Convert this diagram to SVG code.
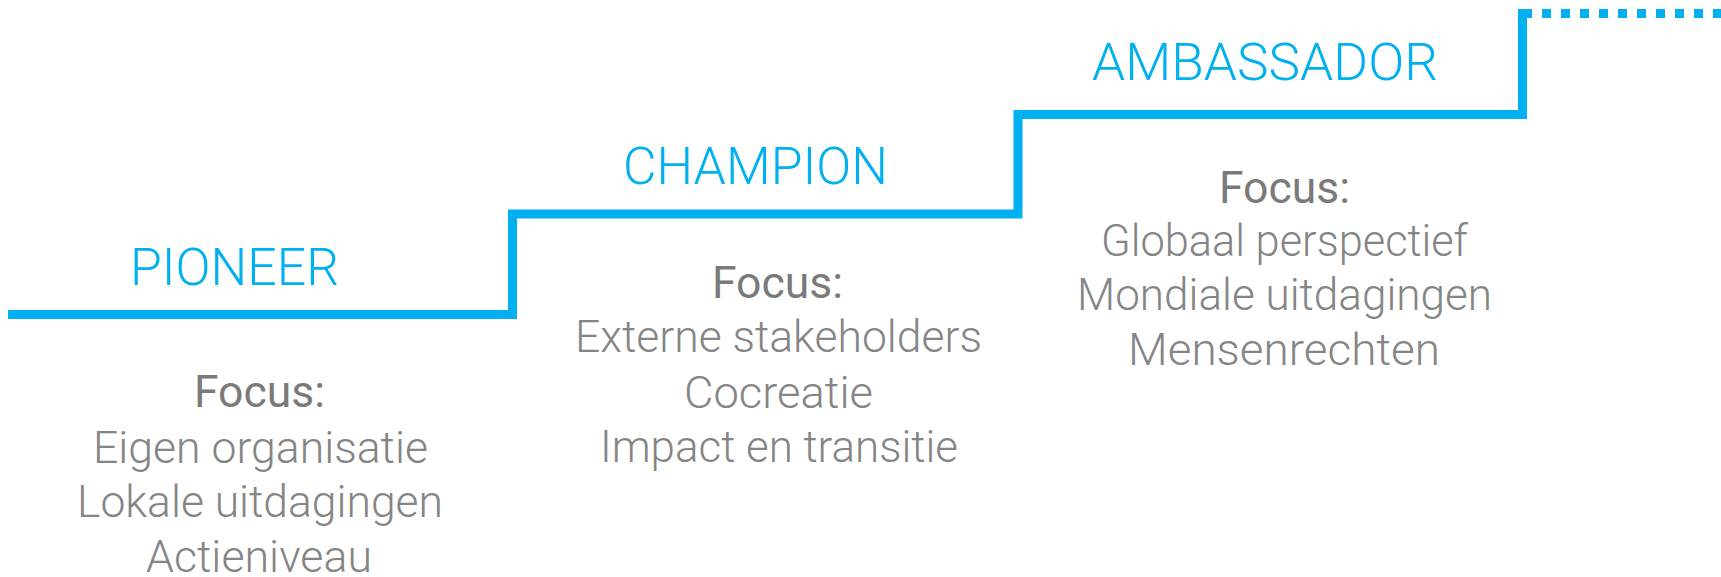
<svg xmlns="http://www.w3.org/2000/svg" width="1721" height="577" viewBox="0 0 1721 577">
<style>
.title{font-family:Roboto,"Liberation Sans",sans-serif;font-weight:300;font-size:51px;fill:#00B0F0}
.focus{font-family:Roboto,"Liberation Sans",sans-serif;font-weight:400;font-size:44px;fill:#7A7A7A}
.body{font-family:Roboto,"Liberation Sans",sans-serif;font-weight:300;font-size:44px;fill:#858585}
.step{fill:none;stroke:#00B0F0;stroke-width:9;stroke-linejoin:miter;stroke-linecap:butt}
.dots{fill:none;stroke:#00B0F0;stroke-width:9;stroke-dasharray:9 10}
</style>
<rect width="1721" height="577" fill="#FFFFFF"/>
<g id="connectors">
<path class="step" d="M8,314.5 H512.5 V214 H1018 V114.5 H1522.5 V9"/>
<path class="dots" d="M1523,13.5 H1721"/>
</g>
<g id="pioneer">
<text class="title" x="130" y="285" textLength="209" lengthAdjust="spacingAndGlyphs">PIONEER</text>
<text class="focus" x="194" y="407" textLength="131" lengthAdjust="spacingAndGlyphs">Focus:</text>
<text class="body" x="93" y="463" textLength="335" lengthAdjust="spacingAndGlyphs">Eigen organisatie</text>
<text class="body" x="77" y="517" textLength="366" lengthAdjust="spacingAndGlyphs">Lokale uitdagingen</text>
<text class="body" x="146" y="572" textLength="226" lengthAdjust="spacingAndGlyphs">Actieniveau</text>
</g>
<g id="champion">
<text class="title" x="623" y="184" textLength="265" lengthAdjust="spacingAndGlyphs">CHAMPION</text>
<text class="focus" x="712" y="298" textLength="131" lengthAdjust="spacingAndGlyphs">Focus:</text>
<text class="body" x="575" y="352" textLength="407" lengthAdjust="spacingAndGlyphs">Externe stakeholders</text>
<text class="body" x="684" y="408" textLength="189" lengthAdjust="spacingAndGlyphs">Cocreatie</text>
<text class="body" x="600" y="462" textLength="358" lengthAdjust="spacingAndGlyphs">Impact en transitie</text>
</g>
<g id="ambassador">
<text class="title" x="1092" y="80" textLength="346" lengthAdjust="spacingAndGlyphs">AMBASSADOR</text>
<text class="focus" x="1219" y="203" textLength="131" lengthAdjust="spacingAndGlyphs">Focus:</text>
<text class="body" x="1101" y="256" textLength="367" lengthAdjust="spacingAndGlyphs">Globaal perspectief</text>
<text class="body" x="1077" y="310" textLength="415" lengthAdjust="spacingAndGlyphs">Mondiale uitdagingen</text>
<text class="body" x="1128" y="365" textLength="312" lengthAdjust="spacingAndGlyphs">Mensenrechten</text>
</g>
</svg>
